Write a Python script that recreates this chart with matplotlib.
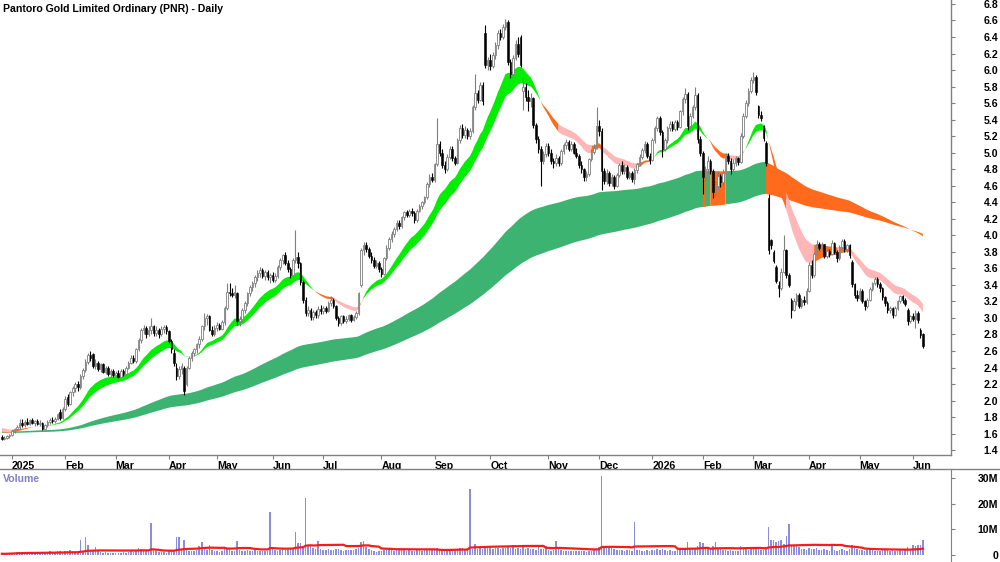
import numpy as np
import pandas as pd
import matplotlib
matplotlib.use('Agg')
import matplotlib.pyplot as plt
from matplotlib.lines import Line2D

plt.rcParams['font.family'] = ['Liberation Sans', 'DejaVu Sans']

title = "Pantoro Gold Limited Ordinary (PNR) - Daily"

# months shown (first entry = last days of Dec 2024, no label)
month_labels = ['', '2025', 'Feb', 'Mar', 'Apr', 'May', 'Jun', 'Jul', 'Aug', 'Sep', 'Oct',
                'Nov', 'Dec', '2026', 'Feb', 'Mar', 'Apr', 'May', 'Jun']
bars_per_month = [4, 21, 20, 21, 19, 22, 20, 23, 21, 22, 23, 20, 21, 20, 20, 22, 20, 21, 5]

opens = [
    1.56, 1.54, 1.55, 1.57,
    1.58, 1.63, 1.66, 1.68, 1.73, 1.70, 1.74, 1.72, 1.76, 1.73, 1.75, 1.72, 1.73, 1.66, 1.70, 1.74, 1.77, 1.75, 1.78, 1.86, 1.79,
    1.90, 2.04, 1.96, 2.10, 2.15, 2.20, 2.16, 2.30, 2.37, 2.47, 2.55, 2.56, 2.42, 2.46, 2.38, 2.44, 2.35, 2.40, 2.32, 2.36,
    2.31, 2.34, 2.29, 2.36, 2.32, 2.40, 2.46, 2.52, 2.48, 2.62, 2.73, 2.86, 2.88, 2.80, 2.86, 2.90, 2.82, 2.86, 2.80, 2.87, 2.89,
    2.84, 2.72, 2.58, 2.40, 2.30, 2.38, 2.40, 2.20, 2.40, 2.52, 2.58, 2.62, 2.68, 2.75, 2.90, 3.00, 3.02, 2.86, 2.80,
    2.88, 2.92, 2.87, 2.95, 3.12, 3.32, 3.30, 3.28, 3.30, 2.96, 2.99, 3.10, 3.18, 3.30, 3.38, 3.42, 3.50, 3.55, 3.58, 3.51, 3.56, 3.49,
    3.52, 3.46, 3.51, 3.62, 3.70, 3.76, 3.66, 3.59, 3.52, 3.70, 3.74, 3.66, 3.44, 3.22, 3.06, 3.10, 3.01, 3.07, 3.03, 3.11,
    3.08, 3.12, 3.09, 3.18, 3.22, 3.15, 3.00, 2.94, 3.02, 2.96, 2.99, 3.03, 2.98, 3.01, 3.06, 3.40, 3.82, 3.88, 3.84, 3.75, 3.70, 3.63, 3.67,
    3.59, 3.53, 3.72, 3.85, 3.95, 4.02, 4.08, 4.15, 4.11, 4.22, 4.28, 4.25, 4.30, 4.27, 4.18, 4.30, 4.35, 4.40, 4.46, 4.62, 4.71,
    4.67, 4.86, 5.10, 5.00, 4.85, 4.80, 4.95, 5.05, 4.93, 4.88, 5.15, 5.30, 5.22, 5.28, 5.20, 5.26, 5.55, 5.72, 5.64, 5.82, 6.45, 6.06,
    6.12, 6.05, 6.18, 6.30, 6.45, 6.40, 6.52, 6.58, 6.10, 5.95, 6.15, 6.32, 6.40, 5.75, 5.80, 5.68, 5.62, 5.66, 5.34, 5.16, 5.05, 4.90, 4.98,
    5.08, 5.00, 4.90, 4.88, 4.94, 4.87, 5.02, 5.09, 5.13, 5.05, 5.11, 5.00, 4.96, 4.85, 4.80, 4.70, 4.74, 4.92, 5.01, 5.06,
    5.32, 5.26, 4.78, 4.66, 4.76, 4.63, 4.71, 4.60, 4.73, 4.85, 4.78, 4.83, 4.71, 4.76, 4.68, 4.79, 4.86, 4.95, 5.03, 5.11, 4.96,
    4.91, 5.15, 5.30, 5.42, 5.25, 5.05, 5.15, 5.30, 5.35, 5.29, 5.37, 5.31, 5.50, 5.65, 5.71, 5.32, 5.45, 5.55, 5.70, 5.16,
    5.00, 4.70, 4.80, 4.90, 4.78, 4.52, 4.60, 4.72, 4.64, 4.76, 4.96, 4.90, 4.80, 4.88, 4.93, 4.89, 5.20, 5.45, 5.60, 5.75,
    5.88, 5.92, 5.56, 5.46, 5.32, 5.12, 4.45, 3.94, 3.80, 3.62, 3.40, 3.36, 3.56, 3.82, 3.52, 3.22, 3.10, 3.20, 3.28, 3.15, 3.22, 3.19,
    3.33, 3.64, 3.52, 3.78, 3.90, 3.85, 3.89, 3.75, 3.81, 3.78, 3.91, 3.80, 3.72, 3.86, 3.93, 3.83, 3.88, 3.68, 3.41, 3.28,
    3.24, 3.33, 3.21, 3.15, 3.22, 3.35, 3.42, 3.47, 3.41, 3.36, 3.25, 3.18, 3.10, 3.12, 3.04, 3.12, 3.20, 3.26, 3.22, 3.10, 2.96,
    3.02, 2.99, 3.06, 2.86, 2.80,
]
highs = [
    1.58, 1.57, 1.58, 1.60,
    1.64, 1.67, 1.70, 1.78, 1.78, 1.76, 1.79, 1.78, 1.79, 1.77, 1.78, 1.76, 1.74, 1.72, 1.76, 1.79, 1.80, 1.80, 1.85, 1.90, 1.92,
    2.05, 2.08, 2.12, 2.18, 2.22, 2.24, 2.32, 2.40, 2.50, 2.58, 2.60, 2.58, 2.50, 2.48, 2.46, 2.46, 2.42, 2.42, 2.38, 2.38,
    2.36, 2.37, 2.38, 2.38, 2.42, 2.48, 2.55, 2.55, 2.64, 2.76, 2.88, 2.92, 2.90, 2.90, 3.00, 2.92, 2.90, 2.88, 2.90, 2.92, 2.91,
    2.86, 2.74, 2.62, 2.45, 2.42, 2.46, 2.42, 2.42, 2.54, 2.60, 2.64, 2.70, 2.78, 2.92, 3.06, 3.05, 3.04, 2.90, 2.92,
    2.95, 2.94, 2.97, 3.15, 3.42, 3.42, 3.36, 3.40, 3.32, 3.02, 3.12, 3.20, 3.32, 3.40, 3.45, 3.52, 3.58, 3.62, 3.60, 3.58, 3.58, 3.55,
    3.56, 3.54, 3.64, 3.72, 3.78, 3.80, 3.70, 3.62, 3.72, 4.06, 3.80, 3.68, 3.46, 3.25, 3.14, 3.12, 3.10, 3.10, 3.14, 3.16,
    3.15, 3.14, 3.20, 3.26, 3.24, 3.16, 3.02, 3.04, 3.04, 3.02, 3.05, 3.05, 3.04, 3.08, 3.32, 3.85, 3.92, 3.92, 3.86, 3.80, 3.74, 3.70, 3.69,
    3.62, 3.74, 3.88, 3.98, 4.05, 4.10, 4.18, 4.18, 4.24, 4.30, 4.31, 4.32, 4.33, 4.29, 4.32, 4.38, 4.42, 4.48, 4.64, 4.74, 4.76,
    4.88, 5.42, 5.14, 5.04, 4.90, 4.98, 5.08, 5.08, 4.96, 5.18, 5.34, 5.35, 5.32, 5.30, 5.30, 5.58, 5.95, 5.76, 5.85, 5.86, 6.55, 6.16,
    6.20, 6.22, 6.34, 6.48, 6.50, 6.56, 6.62, 6.60, 6.14, 6.18, 6.36, 6.40, 6.42, 5.92, 5.84, 5.76, 5.72, 5.68, 5.36, 5.20, 5.08, 5.02, 5.12,
    5.12, 5.04, 4.94, 4.98, 4.96, 5.04, 5.12, 5.16, 5.15, 5.14, 5.13, 5.06, 4.98, 4.90, 4.82, 4.78, 4.94, 5.04, 5.10, 5.55,
    5.40, 5.30, 4.82, 4.80, 4.78, 4.74, 4.73, 4.76, 4.88, 4.90, 4.86, 4.85, 4.78, 4.78, 4.82, 4.88, 4.98, 5.06, 5.14, 5.13, 5.00,
    5.18, 5.32, 5.45, 5.44, 5.28, 5.18, 5.32, 5.38, 5.38, 5.40, 5.40, 5.52, 5.68, 5.78, 5.73, 5.48, 5.58, 5.80, 5.72, 5.20,
    5.02, 4.84, 4.96, 4.92, 4.80, 4.66, 4.78, 4.74, 4.80, 5.00, 5.00, 4.93, 4.92, 4.96, 4.95, 5.24, 5.48, 5.64, 5.78, 5.92,
    5.98, 5.94, 5.58, 5.50, 5.34, 5.14, 4.50, 3.96, 3.82, 3.64, 3.45, 3.60, 4.00, 3.84, 3.54, 3.24, 3.24, 3.30, 3.30, 3.24, 3.26, 3.36,
    3.68, 3.70, 3.80, 3.94, 3.92, 3.92, 3.90, 3.84, 3.84, 3.94, 3.92, 3.82, 3.88, 3.96, 3.95, 3.90, 3.90, 3.70, 3.42, 3.34,
    3.36, 3.35, 3.22, 3.24, 3.37, 3.44, 3.50, 3.49, 3.44, 3.38, 3.27, 3.20, 3.14, 3.13, 3.14, 3.22, 3.28, 3.28, 3.24, 3.12, 3.04,
    3.06, 3.10, 3.08, 2.88, 2.82,
]
lows = [
    1.52, 1.52, 1.53, 1.55,
    1.57, 1.61, 1.64, 1.66, 1.68, 1.68, 1.70, 1.70, 1.72, 1.69, 1.70, 1.69, 1.64, 1.65, 1.68, 1.72, 1.73, 1.73, 1.76, 1.77, 1.78,
    1.88, 1.94, 1.95, 2.06, 2.10, 2.12, 2.14, 2.26, 2.35, 2.44, 2.48, 2.40, 2.38, 2.36, 2.35, 2.33, 2.32, 2.30, 2.28, 2.28,
    2.28, 2.27, 2.28, 2.30, 2.31, 2.38, 2.44, 2.45, 2.46, 2.60, 2.70, 2.80, 2.76, 2.78, 2.80, 2.78, 2.78, 2.76, 2.78, 2.82, 2.80,
    2.70, 2.58, 2.42, 2.25, 2.26, 2.32, 2.07, 2.18, 2.38, 2.48, 2.54, 2.58, 2.64, 2.72, 2.86, 2.92, 2.84, 2.78, 2.78,
    2.84, 2.85, 2.85, 2.92, 3.10, 3.26, 3.25, 3.24, 2.92, 2.90, 2.96, 3.06, 3.15, 3.26, 3.33, 3.38, 3.45, 3.50, 3.48, 3.46, 3.46, 3.42,
    3.44, 3.43, 3.48, 3.58, 3.65, 3.64, 3.56, 3.48, 3.50, 3.66, 3.60, 3.40, 3.18, 3.02, 3.02, 2.98, 2.98, 3.00, 3.00, 3.05,
    3.05, 3.06, 3.07, 3.15, 3.12, 2.98, 2.90, 2.92, 2.94, 2.94, 2.96, 2.95, 2.96, 2.99, 3.04, 3.38, 3.76, 3.80, 3.72, 3.66, 3.60, 3.60, 3.56,
    3.50, 3.52, 3.70, 3.82, 3.92, 3.98, 4.05, 4.08, 4.09, 4.18, 4.22, 4.22, 4.24, 4.15, 4.16, 4.28, 4.32, 4.38, 4.44, 4.58, 4.64,
    4.65, 4.84, 4.96, 4.82, 4.75, 4.78, 4.92, 4.90, 4.85, 4.86, 5.12, 5.18, 5.18, 5.16, 5.16, 5.24, 5.52, 5.60, 5.62, 5.58, 6.02, 6.00,
    6.00, 6.02, 6.14, 6.26, 6.36, 6.38, 6.48, 6.06, 5.90, 5.92, 6.12, 6.16, 6.04, 5.52, 5.62, 5.50, 5.55, 5.30, 5.12, 5.00, 4.60, 4.86, 4.95,
    4.96, 4.86, 4.82, 4.84, 4.84, 4.85, 4.98, 5.04, 5.02, 5.02, 4.98, 4.93, 4.82, 4.76, 4.66, 4.66, 4.72, 4.90, 4.98, 5.04,
    5.20, 4.55, 4.62, 4.62, 4.60, 4.60, 4.56, 4.58, 4.70, 4.74, 4.74, 4.68, 4.68, 4.64, 4.62, 4.76, 4.84, 4.92, 5.00, 4.93, 4.86,
    4.90, 5.12, 5.26, 5.22, 4.95, 5.02, 5.12, 5.26, 5.26, 5.26, 5.28, 5.30, 5.46, 5.60, 5.28, 5.30, 5.42, 5.52, 5.12, 4.96,
    4.50, 4.66, 4.76, 4.74, 4.45, 4.48, 4.56, 4.58, 4.60, 4.74, 4.86, 4.74, 4.78, 4.84, 4.85, 4.88, 5.18, 5.42, 5.56, 5.72,
    5.84, 5.70, 5.42, 5.38, 5.14, 4.84, 3.78, 3.84, 3.66, 3.42, 3.25, 3.34, 3.54, 3.48, 3.38, 3.00, 3.08, 3.16, 3.12, 3.12, 3.16, 3.17,
    3.32, 3.48, 3.50, 3.76, 3.82, 3.82, 3.72, 3.72, 3.74, 3.76, 3.78, 3.68, 3.70, 3.84, 3.80, 3.80, 3.72, 3.38, 3.24, 3.20,
    3.22, 3.18, 3.10, 3.12, 3.20, 3.33, 3.40, 3.38, 3.32, 3.22, 3.15, 3.06, 3.06, 3.00, 3.02, 3.10, 3.18, 3.18, 3.14, 2.92, 2.94,
    2.96, 2.88, 2.94, 2.76, 2.64,
]
closes = [
    1.54, 1.55, 1.57, 1.58,
    1.63, 1.66, 1.68, 1.73, 1.70, 1.74, 1.72, 1.76, 1.73, 1.75, 1.72, 1.73, 1.66, 1.70, 1.74, 1.77, 1.75, 1.78, 1.84, 1.79, 1.90,
    2.02, 1.96, 2.10, 2.15, 2.20, 2.16, 2.30, 2.37, 2.47, 2.55, 2.52, 2.42, 2.46, 2.38, 2.44, 2.35, 2.40, 2.32, 2.36, 2.31,
    2.34, 2.29, 2.36, 2.32, 2.40, 2.46, 2.52, 2.48, 2.62, 2.73, 2.86, 2.88, 2.80, 2.86, 2.90, 2.82, 2.86, 2.80, 2.87, 2.89, 2.84,
    2.72, 2.62, 2.45, 2.30, 2.38, 2.42, 2.12, 2.40, 2.52, 2.58, 2.62, 2.68, 2.75, 2.90, 3.00, 3.02, 2.86, 2.80, 2.88,
    2.92, 2.87, 2.95, 3.12, 3.32, 3.30, 3.28, 3.31, 2.96, 2.99, 3.10, 3.18, 3.30, 3.38, 3.42, 3.50, 3.55, 3.58, 3.51, 3.56, 3.49, 3.52,
    3.46, 3.51, 3.62, 3.70, 3.76, 3.66, 3.59, 3.52, 3.70, 3.74, 3.66, 3.44, 3.22, 3.06, 3.10, 3.01, 3.07, 3.03, 3.11, 3.08,
    3.12, 3.09, 3.18, 3.22, 3.15, 3.00, 2.94, 3.02, 2.96, 2.99, 3.03, 2.98, 3.01, 3.06, 3.30, 3.82, 3.88, 3.84, 3.75, 3.70, 3.63, 3.67, 3.59,
    3.53, 3.72, 3.85, 3.95, 4.02, 4.08, 4.15, 4.11, 4.22, 4.28, 4.25, 4.30, 4.27, 4.18, 4.30, 4.35, 4.40, 4.46, 4.62, 4.71, 4.67,
    4.86, 5.10, 5.00, 4.85, 4.80, 4.95, 5.05, 4.93, 4.88, 5.15, 5.30, 5.22, 5.28, 5.20, 5.26, 5.55, 5.72, 5.64, 5.82, 5.62, 6.06, 6.12,
    6.05, 6.18, 6.30, 6.45, 6.40, 6.52, 6.58, 6.10, 5.95, 6.15, 6.32, 6.20, 6.06, 5.80, 5.68, 5.62, 5.66, 5.34, 5.16, 5.05, 4.90, 4.98, 5.08,
    5.00, 4.90, 4.88, 4.94, 4.87, 5.02, 5.09, 5.13, 5.05, 5.11, 5.00, 4.96, 4.85, 4.80, 4.70, 4.74, 4.92, 5.01, 5.06, 5.32,
    5.26, 4.78, 4.66, 4.76, 4.63, 4.71, 4.60, 4.73, 4.85, 4.78, 4.83, 4.71, 4.76, 4.68, 4.79, 4.86, 4.95, 5.03, 5.11, 4.96, 4.91,
    5.15, 5.30, 5.42, 5.25, 5.05, 5.15, 5.30, 5.35, 5.29, 5.37, 5.31, 5.50, 5.65, 5.71, 5.32, 5.45, 5.55, 5.70, 5.16, 5.00,
    4.70, 4.80, 4.90, 4.78, 4.52, 4.60, 4.72, 4.64, 4.76, 4.96, 4.90, 4.80, 4.88, 4.93, 4.89, 5.20, 5.45, 5.60, 5.75, 5.88,
    5.92, 5.74, 5.46, 5.42, 5.18, 4.88, 3.82, 3.88, 3.69, 3.45, 3.36, 3.56, 3.82, 3.52, 3.40, 3.10, 3.20, 3.28, 3.15, 3.22, 3.19, 3.33,
    3.64, 3.52, 3.78, 3.90, 3.85, 3.89, 3.75, 3.81, 3.78, 3.91, 3.80, 3.72, 3.86, 3.93, 3.83, 3.88, 3.76, 3.41, 3.28, 3.24,
    3.33, 3.21, 3.15, 3.22, 3.35, 3.42, 3.47, 3.41, 3.36, 3.25, 3.18, 3.10, 3.12, 3.04, 3.12, 3.20, 3.26, 3.22, 3.17, 2.96, 3.02,
    2.99, 3.06, 2.97, 2.79, 2.66,
]
# daily volume, millions of shares
volumes = [
    0.6, 0.5, 0.7, 0.8,
    1.0, 0.9, 1.2, 0.8, 1.1, 0.9, 1.3, 1.0, 0.8, 1.2, 1.4, 1.0, 0.9, 1.1, 1.3, 1.5, 1.2, 1.0, 1.8, 1.6, 1.4,
    1.8, 1.5, 2.0, 1.6, 1.4, 1.2, 6.0, 1.8, 7.2, 4.0, 2.0, 1.6, 3.2, 1.5, 1.2, 1.0, 1.1, 0.9, 1.0, 0.8,
    0.9, 1.0, 0.8, 1.2, 1.0, 1.3, 1.5, 1.2, 2.0, 3.0, 2.4, 1.8, 1.5, 1.6, 12.5, 2.0, 1.5, 1.3, 1.4, 1.2, 1.0,
    1.5, 1.8, 2.2, 7.2, 7.2, 2.5, 6.0, 2.4, 1.8, 1.5, 1.6, 2.0, 3.5, 5.0, 3.0, 2.0, 4.0, 2.2, 1.8,
    1.6, 1.4, 1.5, 2.4, 3.0, 2.6, 1.8, 1.6, 5.5, 2.2, 1.8, 1.7, 1.9, 1.6, 1.8, 2.0, 1.7, 1.6, 1.8, 1.5, 1.7, 16.8,
    2.5, 2.0, 1.8, 2.2, 2.4, 2.0, 2.2, 2.6, 3.0, 9.2, 4.6, 4.8, 3.5, 22.0, 4.0, 3.8, 2.8, 2.6, 5.6, 2.4,
    2.2, 2.0, 2.4, 2.1, 1.9, 2.5, 2.3, 2.0, 1.8, 2.1, 2.0, 1.9, 2.2, 2.4, 3.0, 5.2, 5.6, 3.2, 2.6, 2.2, 1.6, 1.4, 1.8,
    1.6, 2.2, 2.0, 2.4, 2.2, 1.8, 2.1, 2.0, 2.3, 1.9, 1.7, 2.0, 1.5, 1.8, 2.2, 2.0, 1.8, 2.4, 2.6, 2.2, 2.0,
    2.2, 2.8, 2.4, 2.6, 2.0, 2.2, 2.5, 2.3, 2.1, 2.6, 3.0, 2.8, 2.4, 2.2, 25.6, 2.5, 4.2, 2.6, 3.0, 2.4, 2.8, 3.5,
    2.8, 2.6, 3.0, 2.8, 2.5, 2.7, 3.0, 3.2, 2.8, 4.0, 2.6, 2.8, 2.4, 4.0, 2.6, 2.8, 2.4, 2.6, 2.2, 3.7, 2.5, 2.3, 3.5,
    2.0, 1.8, 2.2, 5.5, 2.4, 1.9, 1.6, 1.8, 1.5, 1.7, 1.6, 1.8, 1.5, 1.6, 1.8, 1.4, 1.6, 1.7, 1.9, 2.8,
    3.2, 30.8, 3.4, 3.0, 3.2, 2.8, 2.4, 2.2, 2.0, 2.2, 1.8, 2.0, 1.9, 1.6, 13.0, 2.2, 2.0, 1.8, 1.6, 2.0, 1.8,
    2.0, 2.2, 2.4, 2.0, 2.6, 2.2, 1.8, 2.0, 1.6, 1.8, 2.0, 2.4, 2.6, 3.0, 5.0, 2.4, 2.6, 2.8, 3.6, 5.0,
    4.6, 3.0, 2.4, 2.8, 3.6, 5.0, 2.8, 2.4, 2.0, 2.2, 1.8, 2.0, 1.6, 1.8, 1.7, 3.5, 2.4, 2.6, 2.2, 2.8,
    3.0, 2.4, 2.6, 2.2, 2.0, 3.2, 10.8, 6.0, 5.8, 5.0, 5.4, 6.0, 4.4, 7.5, 12.0, 4.0, 3.8, 3.6, 3.2, 2.6, 2.4, 2.2,
    3.0, 2.6, 2.4, 2.8, 2.2, 2.0, 2.4, 2.2, 1.8, 4.4, 2.0, 1.8, 2.2, 2.4, 2.0, 1.8, 2.6, 3.8, 3.0, 2.6,
    2.2, 2.0, 1.8, 2.0, 2.4, 2.2, 1.8, 1.6, 1.8, 2.0, 2.2, 2.4, 1.8, 2.0, 1.6, 1.8, 2.0, 1.8, 2.2, 3.2, 2.6,
    4.0, 3.5, 4.0, 3.8, 5.8,
]

# moving-average ribbons (EMA periods) and their starting levels
short_periods = (18, 27)
long_periods = (140, 220)
short_seed = (1.64, 1.68)
long_seed = (1.63, 1.61)
vol_ma_period = 30
bear_hold = 7   # bars the short ribbon stays orange after a bearish cross

n_total = sum(bars_per_month)
for name, arr in [('opens', opens), ('highs', highs), ('lows', lows), ('closes', closes), ('volumes', volumes)]:
    if len(arr) != n_total:
        raise SystemExit(f'{name}: {len(arr)} != {n_total}')

O = np.array(opens); H = np.array(highs); L = np.array(lows); C = np.array(closes)
V = np.array(volumes)
x = np.arange(n_total) - bars_per_month[0]   # index 0 = first trading day of 2025
month_start = np.cumsum([0] + bars_per_month[:-1]) - bars_per_month[0]


def ema(vals, n, seed):
    a = 2.0 / (n + 1)
    out = np.empty(len(vals))
    e = seed
    for i, v in enumerate(vals):
        e = e + a * (v - e)
        out[i] = e
    return out


sf = ema(C, short_periods[0], short_seed[0])
ss = ema(C, short_periods[1], short_seed[1])
lf = ema(C, long_periods[0], long_seed[0])
ls = ema(C, long_periods[1], long_seed[1])


def rising(a):
    d = np.diff(a, prepend=a[0])
    return d > 0


GREEN = '#00ee00'
DKGREEN = '#3cb371'
ORANGE = '#ff6a1c'
PINK = '#ffb6b6'

s_green = sf >= ss
since = np.zeros(n_total, dtype=int)
cnt = 99
for i in range(n_total):
    if s_green[i]:
        cnt = 0
    else:
        cnt += 1
    since[i] = cnt
s_orange = (~s_green) & (rising(sf) | rising(ss) | (since <= bear_hold))
s_pink = (~s_green) & (~s_orange)
l_green = (lf >= ls) & (C >= np.roll(lf, 1))
l_green[0] = True
l_orange = ~l_green


def grow(m):
    m2 = m.copy()
    m2[1:] |= m[:-1]
    return m2


# ---------------- layout ----------------
W, Hpx = 1000, 562
fig = plt.figure(figsize=(W / 100, Hpx / 100), dpi=100)
axp = fig.add_axes([0, 1 - 455 / Hpx, 951 / W, 455 / Hpx])
axv = fig.add_axes([0, 0, 951 / W, 93 / Hpx])

xmin, xmax = -4.74, 371.1
FS = 7.6

# bands
for mask, col in [(l_green, DKGREEN), (l_orange, ORANGE)]:
    axp.fill_between(x, lf, ls, where=grow(mask), color=col, lw=0)
for mask, col in [(s_green, GREEN), (s_orange, ORANGE), (s_pink, PINK)]:
    axp.fill_between(x, sf, ss, where=grow(mask), color=col, lw=0)

# candles
up = C >= O
axp.vlines(x[up], L[up], H[up], color='#7f7f7f', lw=0.8, zorder=3)
axp.vlines(x[~up], L[~up], H[~up], color='black', lw=0.8, zorder=3)
body = np.maximum(np.abs(C - O), 0.012)
bottom = np.minimum(O, C)
axp.bar(x[up], body[up], bottom=bottom[up], width=0.62, facecolor='white',
        edgecolor='#7f7f7f', lw=0.6, zorder=4)
axp.bar(x[~up], body[~up], bottom=bottom[~up], width=0.62, facecolor='black',
        edgecolor='black', lw=0.4, zorder=4)

axp.set_xlim(xmin, xmax)
axp.set_ylim(1.3416, 6.848)
yt = np.round(np.arange(1.4, 6.81, 0.2), 1)
axp.set_yticks(yt)
axp.set_yticklabels([f'{v:.1f}' for v in yt])
axp.yaxis.tick_right()
axp.tick_params(axis='y', direction='out', length=3, pad=31, labelsize=FS, colors='#808080',
                labelcolor='black')
for lab in axp.get_yticklabels():
    lab.set_horizontalalignment('right')
    lab.set_fontweight('bold')

axp.set_xticks(month_start[1:])
axp.set_xticklabels(month_labels[1:], fontweight='bold', fontsize=FS)
for lab in axp.get_xticklabels():
    lab.set_horizontalalignment('left')
axp.tick_params(axis='x', direction='out', length=3, pad=1, colors='#808080', labelcolor='black')
for s in ['top', 'left']:
    axp.spines[s].set_visible(False)
for s in ['bottom', 'right']:
    axp.spines[s].set_color('#808080')
    axp.spines[s].set_linewidth(1.0)

# volume
axv.bar(x, V, width=0.6, color='#8c8cdc', lw=0)
vma = pd.Series(V).rolling(vol_ma_period, min_periods=1).mean().values
axv.plot(x, vma, color='#ff1a1a', lw=1.6)
axv.set_xlim(xmin, xmax)
axv.set_ylim(-2.6, 33.4)
axv.set_yticks([0, 10, 20, 30])
axv.set_yticklabels(['0', '10M', '20M', '30M'])
axv.yaxis.tick_right()
axv.tick_params(axis='y', direction='out', length=3, pad=31, labelsize=FS, colors='#808080',
                labelcolor='black')
for lab in axv.get_yticklabels():
    lab.set_horizontalalignment('right')
    lab.set_fontweight('bold')
axv.set_xticks([])
for s in ['bottom', 'left', 'top']:
    axv.spines[s].set_visible(False)
axv.spines['right'].set_color('#808080')

fig.add_artist(Line2D([0, 1], [1 - 469 / Hpx] * 2, color='#808080', lw=1.0))

fig.text(3 / W, 1 - 9 / Hpx, title, ha='left', va='center', fontsize=FS, fontweight='bold')
fig.text(3 / W, 1 - 479 / Hpx, 'Volume', ha='left', va='center', fontsize=FS,
         fontweight='bold', color='#8080c0')

fig.savefig('out.png', dpi=100)
